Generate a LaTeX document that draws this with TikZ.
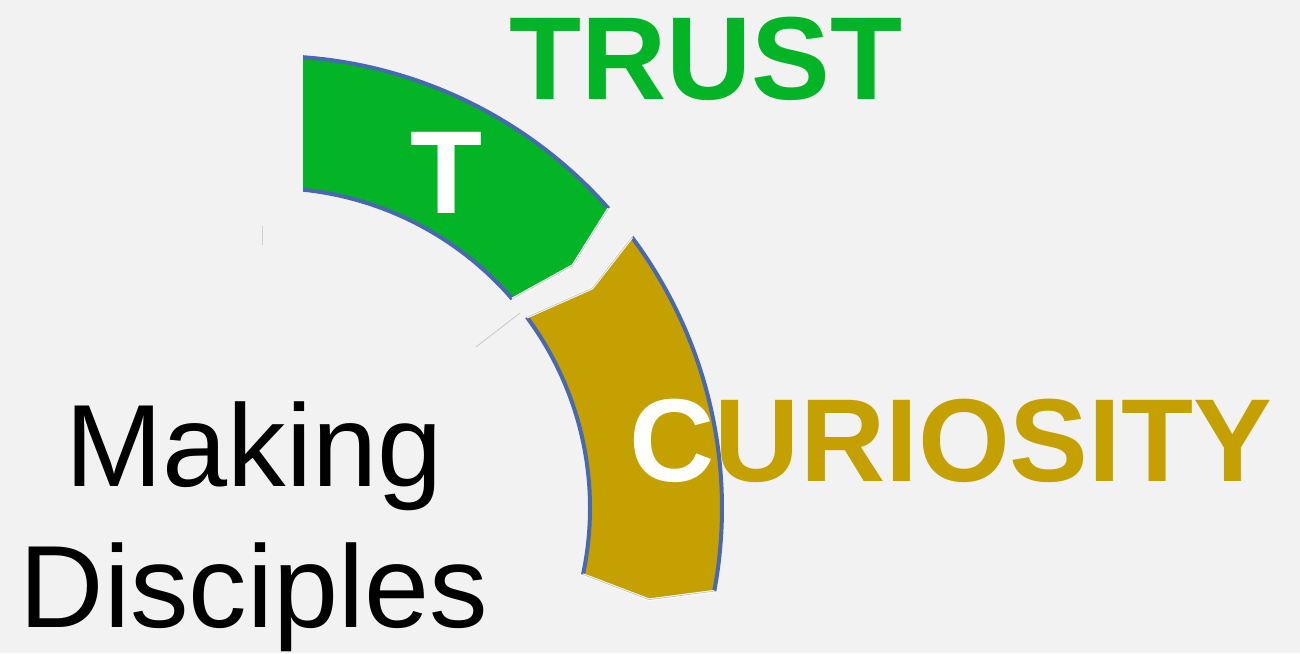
\documentclass[tikz,border=0pt]{standalone}
\usepackage{fontspec}
\setmainfont{Liberation Sans}
\usetikzlibrary{positioning}
\definecolor{pagegray}{HTML}{F2F2F2}
\definecolor{trustgreen}{RGB}{2,180,38}
\definecolor{curiogold}{RGB}{196,160,0}
\definecolor{rimblue}{RGB}{72,104,176}
\tikzset{
    rim/.style={draw=rimblue, line width=4pt},
    seam/.style={draw=gray!45, line width=0.8pt},
    bigword/.style={
           font=\bfseries\fontsize{118}{118}\selectfont,
           inner sep=0pt,
           anchor=base,
           },
    plainword/.style={
           font=\fontsize{117}{117}\selectfont,
           inner sep=0pt,
           anchor=base,
           },
}

\begin{document}
\begin{tikzpicture}[x=1pt,y=1pt]

 % page background, fixes the size
 \fill[pagegray] (0,0) rectangle (1300,653);
 \useasboundingbox (0,0) rectangle (1300,653);

 % centre of the gauge, both segments are drawn round it
 \coordinate (hub) at (270,145);

 % green segment (cut off on the left)
 \begin{scope}[shift={(hub)}]
  \clip (33,0) rectangle (600,520);
  \fill[trustgreen] (100:452) arc[start angle=100, end angle=41.5, radius=452]
   -- (38.7:388) -- (40.8:320)
   arc[start angle=40.8, end angle=100, radius=320] -- cycle;
  \draw[rim] (100:452) arc[start angle=100, end angle=41.5, radius=452];
  \draw[rim] (40.8:320) arc[start angle=40.8, end angle=100, radius=320];
  \draw[white, line width=2.5pt] (41.5:452) -- (38.7:388) -- (40.8:320);
  \draw[seam] (41.5:452) -- (38.7:388) -- (40.8:320);
 \end{scope}

 % gold segment
 \begin{scope}[shift={(hub)}]
  \fill[curiogold] (36.8:452) -- (34.3:390) -- (36.6:320)
   arc[start angle=36.6, end angle=-12, radius=320]
   -- (-13.6:390) -- (-10.6:452)
   arc[start angle=-10.6, end angle=36.8, radius=452] -- cycle;
  \draw[rim] (36.6:320) arc[start angle=36.6, end angle=-12, radius=320];
  \draw[rim] (-10.6:452) arc[start angle=-10.6, end angle=36.8, radius=452];
  \draw[white, line width=2.5pt] (36.8:452) -- (34.3:390) -- (36.6:320);
  \draw[white, line width=2.5pt] (-12:320) -- (-13.6:390) -- (-10.6:452);
  \draw[seam] (36.8:452) -- (34.3:390) -- (36.6:320);
  \draw[seam] (-12:320) -- (-13.6:390) -- (-10.6:452);
 \end{scope}

 % stray marks
 \draw[seam, draw=gray!35] (262,427) -- (262,408);
 \draw[seam] (476,306) -- (520,340);

 % words
 \node[bigword, text=trustgreen] (trust) at (706,553) {TRUST};
 \node[bigword, text=white] (initial t) at (447,439) {T};
 \node[bigword, text=curiogold] (curiosity) at (951,171) {\textcolor{white}{C}URIOSITY};

 \node[plainword] (making) at (254,166) {Making};
 \node[plainword, below=140pt of making.base, anchor=base] (disciples) {Disciples};

\end{tikzpicture}
\end{document}
